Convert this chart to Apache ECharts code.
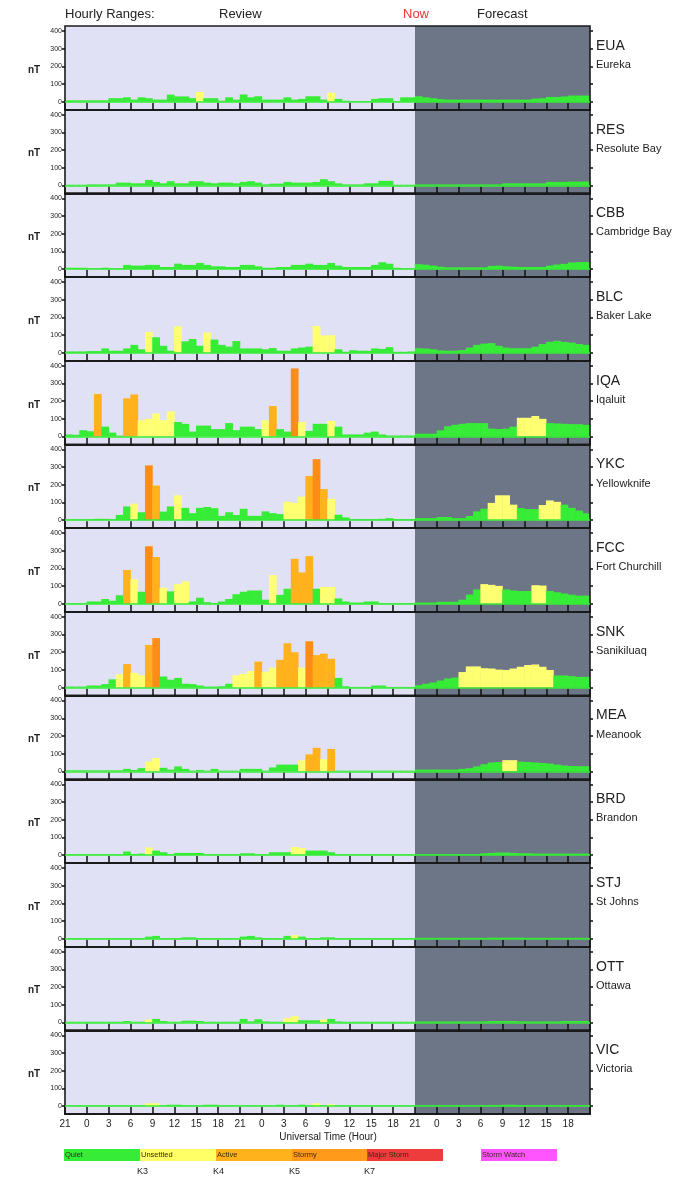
<!DOCTYPE html>
<html><head><meta charset="utf-8">
<script src="https://cdn.jsdelivr.net/npm/echarts@6/dist/echarts.min.js"></script>
<style>html,body{margin:0;padding:0;background:#fff}#c{width:695px;height:1184px}</style>
</head><body><div id="c"></div>
<script>
// ---------- labels ----------
const stationCodes = ['EUA','RES','CBB','BLC','IQA','YKC','FCC','SNK','MEA','BRD','STJ','OTT','VIC'];
const stationNames = ['Eureka','Resolute Bay','Cambridge Bay','Baker Lake','Iqaluit','Yellowknife','Fort Churchill','Sanikiluaq','Meanook','Brandon','St Johns','Ottawa','Victoria'];
const hourLabels = ['21','0','3','6','9','12','15','18','21','0','3','6','9','12','15','18','21','0','3','6','9','12','15','18'];
const yTickValues = [0,100,200,300,400];
const activityNames = ['Quiet','Unsettled','Active','Stormy','Major Storm','Storm Watch'];
const kLabels = ['K3','K4','K5','K7'];

// ---------- hourly ranges (nT): 48 review hours, 24 forecast hours ----------
const reviewEUA = [8,8,8,8,8,8,20,20,25,12,25,20,12,12,40,30,30,20,55,20,20,6,25,12,41,25,31,12,12,12,25,12,16,31,31,12,51,16,6,4,4,4,16,20,20,4,25,25];
const forecastEUA = [31,25,20,15,12,12,12,12,12,12,12,12,12,12,12,12,18,20,27,27,30,35,35,35];
const levelsEUA = [[18,1],[36,1]];

const reviewRES = [4,4,4,6,6,6,6,16,16,12,12,31,20,12,24,12,12,24,24,16,12,16,16,12,20,24,16,6,10,10,20,16,16,16,20,35,24,12,6,6,6,12,12,26,26,4,4,4];
const forecastRES = [6,6,6,6,6,6,6,6,6,6,6,6,12,12,12,12,12,12,20,20,20,22,22,22];
const levelsRES = [];

const reviewCBB = [8,8,8,4,4,8,4,4,24,20,20,24,24,12,12,31,24,24,35,24,16,16,12,12,24,24,16,8,8,12,12,24,24,31,24,24,35,20,12,12,12,12,24,39,31,8,4,4];
const forecastCBB = [28,25,20,14,10,10,10,10,10,10,18,20,16,14,12,12,12,12,20,26,30,38,40,40];
const levelsCBB = [];

const reviewBLC = [8,8,8,10,10,25,12,12,25,45,20,118,88,40,12,150,65,78,40,115,75,45,35,67,25,25,25,20,27,12,12,25,30,35,152,98,100,20,6,15,12,12,25,22,32,6,6,8];
const forecastBLC = [26,24,20,14,12,12,16,30,45,52,55,40,30,26,26,26,35,50,62,68,62,58,50,45];
const levelsBLC = [[11,1],[15,1],[19,1],[34,1],[35,1],[36,1]];

const reviewIQA = [12,10,36,30,240,56,22,5,216,238,92,100,130,92,142,82,72,28,62,62,42,42,76,36,56,56,42,92,172,42,28,385,82,32,72,72,88,56,12,12,12,22,28,12,6,6,6,6];
const forecastIQA = [16,16,16,35,58,66,72,76,76,76,45,42,45,56,106,106,116,100,76,74,72,70,70,66];
const levelsIQA = [[4,2],[8,2],[9,2],[10,1],[11,1],[12,1],[13,1],[14,1],[27,1],[28,2],[31,3],[32,1],[36,1],[62,1],[63,1],[64,1],[65,1]];

const reviewYKC = [5,5,5,6,8,8,6,30,78,94,45,310,196,49,78,141,70,40,70,75,68,25,45,30,65,25,25,50,40,35,104,98,133,250,345,176,121,31,16,6,6,6,6,8,12,6,6,6];
const forecastYKC = [12,12,12,18,18,12,12,24,50,65,98,141,141,88,69,63,63,86,112,104,88,70,55,39];
const levelsYKC = [[9,1],[11,3],[12,2],[15,1],[30,1],[31,1],[32,1],[33,2],[34,3],[35,2],[36,1],[58,1],[59,1],[60,1],[61,1],[65,1],[66,1],[67,1]];

const reviewFCC = [4,4,4,14,14,28,18,49,192,140,69,326,265,92,71,112,128,14,35,10,4,14,28,55,69,76,76,24,163,51,86,255,178,270,86,96,96,31,14,8,8,14,14,4,4,4,4,4];
const forecastFCC = [8,8,8,12,12,12,24,53,82,112,108,102,82,76,73,73,106,104,73,66,59,52,47,47];
const levelsFCC = [[8,2],[9,1],[11,3],[12,2],[13,1],[15,1],[16,1],[28,1],[31,2],[32,2],[33,2],[35,1],[36,1],[57,1],[58,1],[59,1],[64,1],[65,1]];

const reviewSNK = [6,6,6,12,12,20,47,75,133,84,70,241,280,63,45,55,22,20,12,6,6,8,22,70,78,94,147,90,113,157,251,200,113,262,184,192,163,55,8,4,4,4,12,12,4,4,4,4];
const forecastSNK = [14,22,29,40,52,57,88,120,120,110,108,102,100,108,118,128,131,118,100,69,69,65,61,61];
const levelsSNK = [[7,1],[8,2],[9,1],[10,1],[11,2],[12,3],[23,1],[24,1],[25,1],[26,2],[27,1],[28,1],[29,2],[30,2],[31,2],[32,1],[33,3],[34,2],[35,2],[36,2],
  [54,1],[55,1],[56,1],[57,1],[58,1],[59,1],[60,1],[61,1],[62,1],[63,1],[64,1],[65,1],[66,1]];

const reviewMEA = [6,6,6,6,6,6,6,6,14,8,18,55,75,20,10,28,14,4,8,4,14,4,4,4,14,14,14,4,22,38,38,38,63,96,133,69,127,4,4,4,4,4,4,4,4,4,4,4];
const forecastMEA = [10,10,10,10,10,10,14,18,28,40,50,53,63,63,55,53,50,47,44,38,33,30,29,29];
const levelsMEA = [[11,1],[12,1],[32,1],[33,2],[34,2],[35,1],[36,2],[60,1],[61,1]];

const reviewBRD = [4,4,4,4,4,4,4,4,20,6,8,43,25,16,4,12,12,12,12,4,4,4,4,4,10,10,4,4,16,16,16,45,40,25,25,25,16,4,4,4,4,4,4,4,4,4,4,4];
const forecastBRD = [6,6,6,6,6,6,6,6,6,10,12,14,14,12,10,10,8,8,8,8,8,8,8,8];
const levelsBRD = [[11,1],[31,1],[32,1]];

const reviewSTJ = [4,4,4,4,4,4,4,4,4,4,4,12,16,4,4,4,8,8,4,4,4,4,4,4,12,16,8,4,4,4,16,20,12,4,4,8,8,4,4,4,4,4,4,4,4,4,4,4];
const forecastSTJ = [5,5,5,5,5,5,5,5,5,5,6,6,6,6,6,5,5,5,5,5,5,5,5,5];
const levelsSTJ = [[31,1]];

const reviewOTT = [4,4,4,4,4,4,4,4,8,4,4,16,20,8,4,4,10,10,8,4,4,4,4,4,20,6,18,6,4,4,24,35,12,12,12,16,20,6,4,4,4,4,4,4,4,4,4,4];
const forecastOTT = [6,6,6,6,6,6,6,6,6,6,8,8,8,8,6,6,6,6,6,6,8,8,8,8];
const levelsOTT = [[11,1],[30,1],[31,1],[35,1]];

const reviewVIC = [4,4,4,4,4,4,4,4,4,4,4,16,16,4,8,8,4,4,4,8,8,4,4,4,4,4,4,4,4,8,4,4,8,4,16,4,10,4,4,4,4,4,4,4,4,4,4,4];
const forecastVIC = [5,5,5,5,5,5,5,5,5,5,6,6,8,8,6,6,5,5,5,5,5,5,5,5];
const levelsVIC = [[11,1],[12,1],[34,1],[36,1]];

// ---------- assemble ----------
const reviews = [reviewEUA,reviewRES,reviewCBB,reviewBLC,reviewIQA,reviewYKC,reviewFCC,reviewSNK,reviewMEA,reviewBRD,reviewSTJ,reviewOTT,reviewVIC];
const forecasts = [forecastEUA,forecastRES,forecastCBB,forecastBLC,forecastIQA,forecastYKC,forecastFCC,forecastSNK,forecastMEA,forecastBRD,forecastSTJ,forecastOTT,forecastVIC];
const levels = [levelsEUA,levelsRES,levelsCBB,levelsBLC,levelsIQA,levelsYKC,levelsFCC,levelsSNK,levelsMEA,levelsBRD,levelsSTJ,levelsOTT,levelsVIC];

const levelColors = ['#36ec36','#ffff72','#ffb21c','#ff8c14','#ee3b3b'];
const legendColors = ['#36ec36','#ffff66','#ffb21c','#ff9a1a','#ee3b3b','#ff55ff'];
const reviewBg = '#e1e1f5';
const forecastBg = '#6c7686';
const FONT = 'Liberation Sans, Arial, sans-serif';

const TOP = 26, PH = 83.7, LEFT = 65, PW = 525;
const HOURS = 72, REVIEW_H = 48;
const barW = PW / HOURS + 0.5;

const grids = [], xAxes = [], yAxes = [], series = [], graphics = [];

stationCodes.forEach((code, i) => {
  const top = TOP + i * PH;
  grids.push({left: LEFT, top: top, width: PW, height: PH, show: true, z: 3,
    borderColor: '#1b1b1b', borderWidth: 1.6, backgroundColor: 'transparent'});
  xAxes.push({
    type: 'value', gridIndex: i, min: 0, max: HOURS, interval: 3, position: 'bottom', z: 4,
    axisLine: {show: true, onZero: false, lineStyle: {color: '#1b1b1b', width: 2}},
    axisTick: {show: true, inside: true, length: 7, lineStyle: {color: '#111', width: 1.5}},
    axisLabel: {show: i === stationCodes.length - 1, fontSize: 10, color: '#222', fontFamily: FONT, margin: 5,
      formatter: v => (v < HOURS ? hourLabels[Math.round(v / 3)] : '')},
    splitLine: {show: false}
  });
  yAxes.push({
    type: 'value', gridIndex: i, min: -45, max: 428, position: 'left', z: 4,
    axisLine: {show: false},
    axisTick: {show: true, length: 3, customValues: yTickValues, lineStyle: {color: '#111', width: 1.5}},
    axisLabel: {show: true, customValues: yTickValues, fontSize: 7, color: '#222', fontFamily: FONT, margin: 3},
    splitLine: {show: false}
  });
  const vals = reviews[i].concat(forecasts[i]);
  const lv = new Array(HOURS).fill(0);
  levels[i].forEach(([h, l]) => { lv[h] = l; });
  series.push({
    type: 'bar', xAxisIndex: i, yAxisIndex: i, barWidth: barW, z: 2,
    data: vals.map((v, h) => ({value: [h + 0.5, v], itemStyle: {color: levelColors[lv[h]]}})),
    markArea: {silent: true, z: 1, data: [
      [{xAxis: 0, itemStyle: {color: reviewBg}}, {xAxis: REVIEW_H}],
      [{xAxis: REVIEW_H, itemStyle: {color: forecastBg}}, {xAxis: HOURS}]
    ]},
    markLine: {silent: true, symbol: 'none', label: {show: false}, animation: false,
      lineStyle: {color: '#36ec36', width: 1.5, type: 'solid'}, data: [{yAxis: 0}]}
  });
  graphics.push({type: 'text', x: 28, y: top + 44, z: 10,
    style: {text: 'nT', fill: '#222', font: 'bold 10px ' + FONT, align: 'left', verticalAlign: 'middle'}});
  graphics.push({type: 'text', x: 596, y: top + 20, z: 10,
    style: {text: code, fill: '#222', font: '14px ' + FONT, align: 'left', verticalAlign: 'middle'}});
  graphics.push({type: 'text', x: 596, y: top + 39, z: 10,
    style: {text: stationNames[i], fill: '#222', font: '11px ' + FONT, align: 'left', verticalAlign: 'middle'}});
});

// right-hand y ticks (second y axis per panel)
stationCodes.forEach((code, i) => {
  yAxes.push({
    type: 'value', gridIndex: i, min: -45, max: 428, position: 'right', z: 4,
    axisLine: {show: false},
    axisTick: {show: true, length: 3, customValues: yTickValues, lineStyle: {color: '#111', width: 1.5}},
    axisLabel: {show: false}, splitLine: {show: false}
  });
});

// header
const header = [['Hourly Ranges:', 65, '#222'], ['Review', 219, '#222'], ['Now', 403, '#ee3333'], ['Forecast', 477, '#222']];
header.forEach(([t, x, c]) => graphics.push({type: 'text', x: x, y: 14, z: 10,
  style: {text: t, fill: c, font: '13px ' + FONT, align: 'left', verticalAlign: 'middle'}}));

graphics.push({type: 'text', x: 328, y: 1137, z: 10,
  style: {text: 'Universal Time (Hour)', fill: '#222', font: '10px ' + FONT, align: 'center', verticalAlign: 'middle'}});

// legend swatches
const legendX = [64, 140, 216, 292, 367, 481];
const legendW = [76, 76, 76, 75, 76, 76];
activityNames.forEach((name, k) => {
  graphics.push({type: 'rect', z: 10, shape: {x: legendX[k], y: 1149, width: legendW[k], height: 12},
    style: {fill: legendColors[k]}});
  graphics.push({type: 'text', x: legendX[k] + 1, y: 1155, z: 11,
    style: {text: name, fill: '#3a2a12', font: '7.5px ' + FONT, align: 'left', verticalAlign: 'middle'}});
});
kLabels.forEach((t, k) => graphics.push({type: 'text', x: legendX[k + 1] - 3, y: 1172, z: 10,
  style: {text: t, fill: '#222', font: '9px ' + FONT, align: 'left', verticalAlign: 'middle'}}));

const chart = echarts.init(document.getElementById('c'), null, {renderer: 'canvas'});
chart.setOption({
  animation: false,
  backgroundColor: '#ffffff',
  grid: grids, xAxis: xAxes, yAxis: yAxes, series: series, graphic: graphics
});
</script>
</body></html>
